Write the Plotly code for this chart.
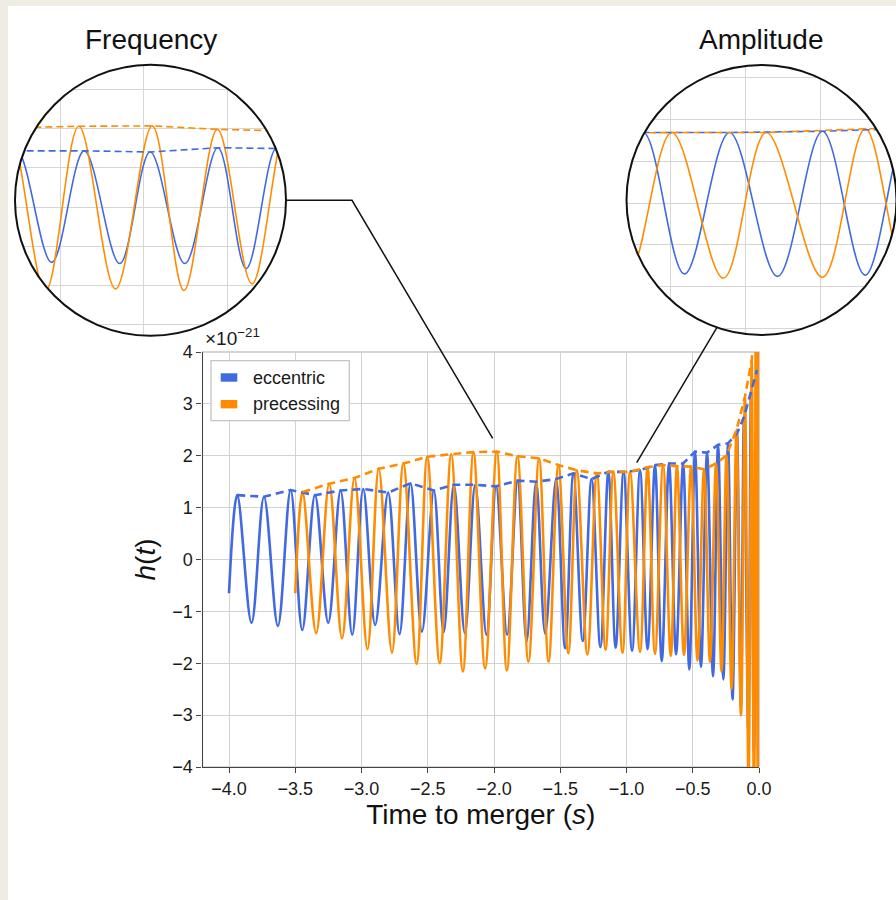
import plotly.graph_objects as go

W, H = 896, 900
BLUE = "#4169e1"
ORANGE = "#ff8c00"
FONT = "Liberation Sans, Arial, Helvetica, sans-serif"

# ---- eccentric waveform: first sample, then crests and troughs
#      (time before merger in s, strain in units of 1e-21)
ecc_start_t = [-4.0]
ecc_start_h = [-0.65]
ecc_peak_t = [-3.938, -3.736, -3.535, -3.351, -3.158, -2.987, -2.799, -2.630,
              -2.454, -2.303, -2.142, -1.984, -1.822, -1.682, -1.531, -1.401,
              -1.264, -1.137, -1.022, -0.898, -0.785, -0.679, -0.573, -0.483,
              -0.392, -0.309, -0.234, -0.166, -0.113, -0.060, -0.015]
ecc_peak_h = [1.24, 1.21, 1.34, 1.24, 1.33, 1.36, 1.29, 1.47,
              1.33, 1.44, 1.44, 1.41, 1.52, 1.50, 1.55, 1.66,
              1.55, 1.69, 1.69, 1.72, 1.82, 1.85, 1.85, 2.08,
              2.06, 2.21, 2.24, 2.43, 2.75, 3.23, 3.65]
ecc_trough_t = [-3.830, -3.631, -3.447, -3.251, -3.070, -2.897, -2.713, -2.544,
                -2.380, -2.220, -2.057, -1.901, -1.754, -1.614, -1.463, -1.330,
                -1.197, -1.082, -0.958, -0.841, -0.734, -0.626, -0.526, -0.438,
                -0.347, -0.269, -0.200, -0.137, -0.081, -0.038]
ecc_trough_h = [-1.22, -1.28, -1.36, -1.22, -1.45, -1.26, -1.44, -1.39,
                -1.40, -1.42, -1.45, -1.45, -1.58, -1.43, -1.71, -1.57,
                -1.69, -1.70, -1.76, -1.73, -1.96, -1.83, -2.12, -2.07,
                -2.25, -2.31, -2.70, -2.85, -3.30, -3.70]

# ---- precessing waveform
prec_start_t = [-3.50]
prec_start_h = [-0.65]
prec_peak_t = [-3.445, -3.244, -3.053, -2.870, -2.684, -2.504, -2.323, -2.155,
               -1.979, -1.823, -1.660, -1.514, -1.375, -1.224, -1.099, -0.973,
               -0.841, -0.724, -0.619, -0.513, -0.415, -0.324, -0.245, -0.170,
               -0.106, -0.055, -0.023, 0.0]
prec_peak_h = [1.30, 1.46, 1.57, 1.75, 1.85, 1.98, 2.03, 2.07,
               2.08, 1.99, 1.95, 1.82, 1.72, 1.66, 1.69, 1.69,
               1.78, 1.82, 1.80, 1.79, 1.74, 1.85, 2.01, 2.50,
               3.14, 3.84, 4.80, 5.50]
prec_trough_t = [-3.342, -3.147, -2.955, -2.770, -2.584, -2.410, -2.235, -2.067,
                 -1.903, -1.740, -1.588, -1.439, -1.295, -1.158, -1.030, -0.898,
                 -0.785, -0.666, -0.566, -0.464, -0.370, -0.283, -0.207, -0.136,
                 -0.079, -0.038, -0.008]
prec_trough_h = [-1.42, -1.52, -1.73, -1.80, -2.01, -2.00, -2.16, -2.10,
                 -2.14, -1.97, -1.97, -1.81, -1.83, -1.74, -1.80, -1.78,
                 -1.82, -1.86, -1.84, -1.95, -1.97, -2.16, -2.50, -3.00,
                 -4.30, -5.00, -5.50]

x_ticks = [-4.0, -3.5, -3.0, -2.5, -2.0, -1.5, -1.0, -0.5, 0.0]
y_ticks = [-4, -3, -2, -1, 0, 1, 2, 3, 4]


def merge(t0, h0, pt, ph, tt, th):
    pts = sorted(zip(t0 + pt + tt, h0 + ph + th))
    return [p[0] for p in pts], [p[1] for p in pts]


ecc_t, ecc_h = merge(ecc_start_t, ecc_start_h, ecc_peak_t, ecc_peak_h,
                     ecc_trough_t, ecc_trough_h)
prec_t, prec_h = merge(prec_start_t, prec_start_h, prec_peak_t, prec_peak_h,
                       prec_trough_t, prec_trough_h)


def fx(p):
    return p / W


def fy(p):
    return 1 - p / H


fig = go.Figure()


def add_waves(xa, ya, lw, dash):
    common = dict(xaxis=xa, yaxis=ya, mode="lines", showlegend=False,
                  hoverinfo="skip")
    fig.add_trace(go.Scatter(x=ecc_t, y=ecc_h, name="eccentric",
                             line=dict(color=BLUE, width=lw, shape="spline"),
                             **common))
    fig.add_trace(go.Scatter(x=prec_t, y=prec_h, name="precessing",
                             line=dict(color=ORANGE, width=lw, shape="spline"),
                             **common))
    fig.add_trace(go.Scatter(x=ecc_peak_t, y=ecc_peak_h, name="eccentric envelope",
                             line=dict(color=BLUE, width=lw, dash=dash),
                             **common))
    fig.add_trace(go.Scatter(x=prec_peak_t, y=prec_peak_h,
                             name="precessing envelope",
                             line=dict(color=ORANGE, width=lw, dash=dash),
                             **common))


add_waves("x", "y", 2.6, "8px,5px")
add_waves("x2", "y2", 1.6, "7px,4px")
add_waves("x3", "y3", 1.6, "7px,4px")

GRID = "#d2d2d2"
inset_axis = dict(showticklabels=False, ticks="", showline=False,
                  zeroline=False, showgrid=True, gridcolor="#d6d6d6",
                  gridwidth=1)

# inset circles (pixel centre, radius)
FREQ_C = (150.5, 200.25, 135.5)
AMP_C = (761.5, 200.0, 135.0)

fig.update_layout(
    width=W, height=H,
    margin=dict(l=0, r=0, t=0, b=0),
    paper_bgcolor="#efece4",
    plot_bgcolor="white",
    font=dict(family=FONT, color="#222222"),
    xaxis=dict(domain=[fx(202.5), fx(759)], range=[-4.2, 0.0],
               tickvals=x_ticks, tickformat=".1f", showgrid=True,
               gridcolor=GRID, gridwidth=1, zeroline=False,
               showline=True, linecolor="#444444", linewidth=1.2,
               ticks="outside", ticklen=5, tickcolor="#444444",
               tickfont=dict(size=18, family=FONT, color="#1a1a1a"),
               title=dict(text="Time to merger (<i>s</i>)",
                          font=dict(size=28, family=FONT, color="#111111"),
                          standoff=3),
               automargin=False, anchor="y"),
    yaxis=dict(domain=[fy(767), fy(352)], range=[-4, 4],
               tickvals=y_ticks, showgrid=True, gridcolor=GRID, gridwidth=1,
               zeroline=False, showline=True, linecolor="#444444",
               linewidth=1.2, ticks="outside", ticklen=5,
               tickcolor="#444444",
               tickfont=dict(size=18, family=FONT, color="#1a1a1a"),
               title=dict(text="<i>h</i>(<i>t</i>)",
                          font=dict(size=28, family=FONT, color="#111111"),
                          standoff=8),
               automargin=False, anchor="x"),
    xaxis2=dict(domain=[fx(FREQ_C[0] - FREQ_C[2]), fx(FREQ_C[0] + FREQ_C[2])],
                range=[-2.3078, -1.6587], dtick=0.2, tick0=0, anchor="y2",
                **inset_axis),
    yaxis2=dict(domain=[fy(FREQ_C[1] + FREQ_C[2]), fy(FREQ_C[1] - FREQ_C[2])],
                range=[-3.301, 3.647], dtick=1, tick0=0, anchor="x2",
                **inset_axis),
    xaxis3=dict(domain=[fx(AMP_C[0] - AMP_C[2]), 1.0],
                range=[-1.1593, -0.8000], dtick=0.1, tick0=0, anchor="y3",
                **inset_axis),
    yaxis3=dict(domain=[fy(AMP_C[1] + AMP_C[2]), fy(AMP_C[1] - AMP_C[2])],
                range=[-3.165, 3.309], dtick=1, tick0=0, anchor="x3",
                **inset_axis),
)


def pt(x, y):
    return f"{fx(x):.6f},{fy(y):.6f}"


def circle_path(cx, cy, r):
    k = 0.5522847 * r
    return (f"M{pt(cx + r, cy)} "
            f"C{pt(cx + r, cy + k)} {pt(cx + k, cy + r)} {pt(cx, cy + r)} "
            f"C{pt(cx - k, cy + r)} {pt(cx - r, cy + k)} {pt(cx - r, cy)} "
            f"C{pt(cx - r, cy - k)} {pt(cx - k, cy - r)} {pt(cx, cy - r)} "
            f"C{pt(cx + k, cy - r)} {pt(cx + r, cy - k)} {pt(cx + r, cy)} Z")


def mask_path(cx, cy, r, pad=4):
    a, b = cx - r - pad, cx + r + pad
    c, d = cy - r - pad, cy + r + pad
    return (f"M{pt(a, c)} L{pt(b, c)} L{pt(b, d)} L{pt(a, d)} Z "
            + circle_path(cx, cy, r))


shapes = []
# white card over the beige page
shapes.append(dict(type="rect", xref="paper", yref="paper",
                   x0=fx(8), x1=1.0, y0=0.0, y1=fy(6),
                   fillcolor="white", line=dict(width=0), layer="below"))
# light frame around the main axes
shapes.append(dict(type="rect", xref="x domain", yref="y domain",
                   x0=0, x1=1, y0=0, y1=1, fillcolor="rgba(0,0,0,0)",
                   line=dict(color="#ababab", width=1.2), layer="below"))

for cx, cy, r in (FREQ_C, AMP_C):
    shapes.append(dict(type="path", xref="paper", yref="paper",
                       path=mask_path(cx, cy, r), fillcolor="white",
                       fillrule="evenodd", line=dict(width=0), layer="above"))
    shapes.append(dict(type="path", xref="paper", yref="paper",
                       path=circle_path(cx, cy, r), fillcolor="rgba(0,0,0,0)",
                       line=dict(color="#111111", width=2), layer="above"))

# connectors from the insets to the zoomed regions
fcx, fcy, fr = FREQ_C
shapes.append(dict(type="path", xref="paper", yref="paper",
                   path=f"M{pt(fcx + fr, fcy)} L{pt(352, fcy)} L{pt(492.7, 438.3)}",
                   line=dict(color="#111111", width=1.5), layer="above"))
acx, acy, ar = AMP_C
sx = 717.0
sy = acy + (ar ** 2 - (sx - acx) ** 2) ** 0.5
shapes.append(dict(type="path", xref="paper", yref="paper",
                   path=f"M{pt(sx, sy)} L{pt(636.7, 462.7)}",
                   line=dict(color="#111111", width=1.5), layer="above"))

# legend box with colour patches
shapes.append(dict(type="rect", xref="paper", yref="paper",
                   x0=fx(211), x1=fx(349.3), y0=fy(420.7), y1=fy(360.7),
                   fillcolor="white", line=dict(color="#c4c4c4", width=1.3),
                   layer="above"))
legend_items = [("eccentric", BLUE, 377.5), ("precessing", ORANGE, 404.2)]
for label, col, yc in legend_items:
    shapes.append(dict(type="rect", xref="paper", yref="paper",
                       x0=fx(220.7), x1=fx(237.3), y0=fy(yc + 4.2),
                       y1=fy(yc - 4.2), fillcolor=col, line=dict(width=0),
                       layer="above"))

fig.update_layout(shapes=shapes)

annotations = [
    dict(text="Frequency", x=fx(150.5), y=fy(39), xref="paper", yref="paper",
         showarrow=False, xanchor="center", yanchor="middle",
         font=dict(size=28, family=FONT, color="#111111")),
    dict(text="Amplitude", x=fx(761.5), y=fy(39), xref="paper", yref="paper",
         showarrow=False, xanchor="center", yanchor="middle",
         font=dict(size=28, family=FONT, color="#111111")),
    dict(text="×10<sup>−21</sup>", x=fx(203), y=fy(351), xref="paper",
         yref="paper", showarrow=False, xanchor="left", yanchor="bottom",
         font=dict(size=19, family=FONT, color="#1a1a1a")),
]
for label, col, yc in legend_items:
    annotations.append(dict(text=label, x=fx(251), y=fy(yc), xref="paper",
                            yref="paper", showarrow=False, xanchor="left",
                            yanchor="middle",
                            font=dict(size=18, family=FONT, color="#1a1a1a")))
fig.update_layout(annotations=annotations)

fig.write_html("out.html")
